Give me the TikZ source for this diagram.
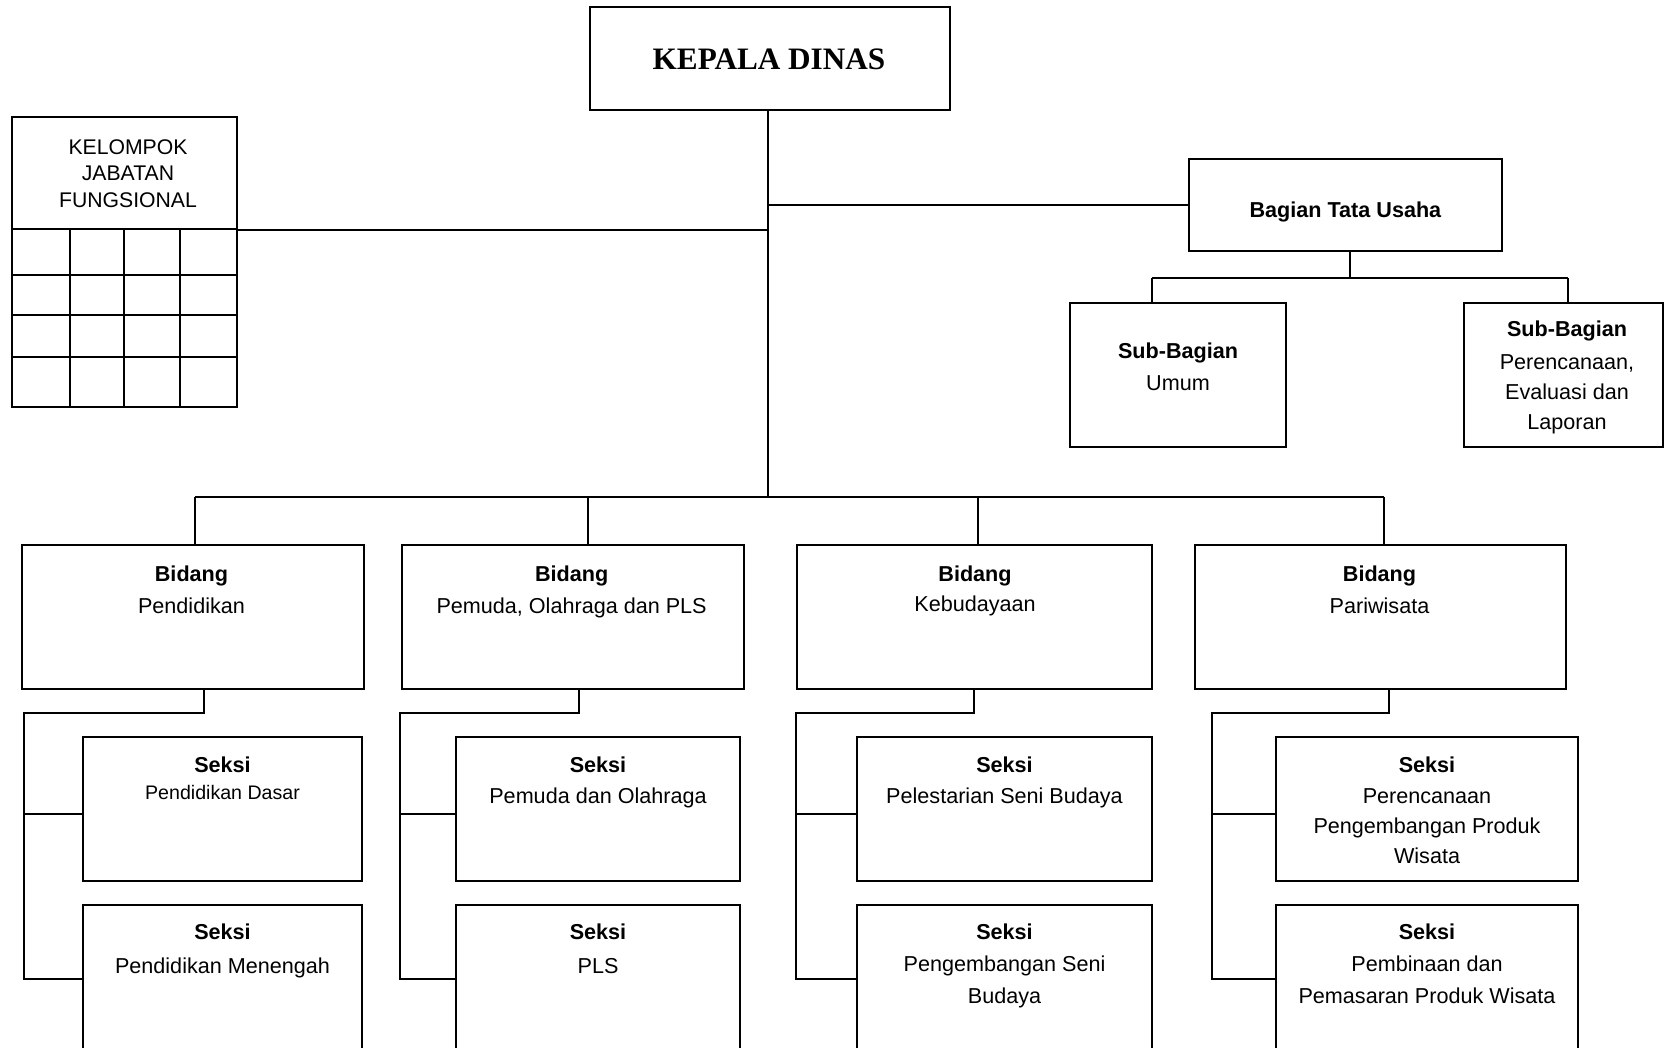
\documentclass[tikz,border=0pt]{standalone}
\usepackage{fontspec}
\setmainfont{Liberation Sans}
\newfontfamily\serifbold{Liberation Serif}
\usetikzlibrary{fit}
\newcommand\fsnorm{\fontsize{10.8}{15}\selectfont}
\begin{document}
\begin{tikzpicture}[x=0.5pt,y=-0.5pt,
  box/.style={draw, line width=1pt, inner sep=0pt},
  wire/.style={line width=0.85pt},
  lbl/.style={align=center, inner sep=0pt, anchor=base, font=\fsnorm},
]
\useasboundingbox (0,0) rectangle (1664,1048);
\clip (0,0) rectangle (1664,1048);

% ---- top
\node[box, fit={(590,7)(950,110)}] (kd) {};
\node[lbl, font=\serifbold\bfseries\fontsize{15.6}{18}\selectfont] (kdt) at (769,70) {KEPALA DINAS};

% ---- kelompok jabatan fungsional
\node[box, fit={(12,117)(237,229)}] (kjfh) {};
\node[box, fit={(12,229)(237,407)}] (kjfg) {};
\draw[line width=1pt] (70,229) -- (70,407) (124,229) -- (124,407) (180,229) -- (180,407)
  (12,275) -- (237,275) (12,315) -- (237,315) (12,357) -- (237,357);
\node[lbl, font=\fontsize{10.6}{13.25}\selectfont] (kjft) at (128,207.3) {KELOMPOK\\JABATAN\\FUNGSIONAL};

% ---- bagian tata usaha
\node[box, fit={(1189,159)(1502,251)}] (btu) {};
\node[lbl] (btut) at (1345.5,218) {\textbf{Bagian Tata Usaha}};
\node[box, fit={(1070,303)(1286,447)}] (sb1) {};
\node[lbl] (sb1t) at (1178,390.4) {\textbf{Sub-Bagian}\\[1.2pt]Umum};
\node[box, fit={(1464,303)(1662.5,447)}] (sb2) {};
\node[lbl] (sb2t) at (1567,429) {\textbf{Sub-Bagian}\\[1.5pt]Perencanaan,\\Evaluasi dan\\Laporan};

% ---- bidang
\node[box, fit={(22,545)(364,689)}] (bid1) {};
\node[lbl] (bid1t) at (191.5,613) {\textbf{Bidang}\\[1pt]Pendidikan};
\node[box, fit={(402,545)(744,689)}] (bid2) {};
\node[lbl] (bid2t) at (571.6,613) {\textbf{Bidang}\\[1pt]Pemuda, Olahraga dan PLS};
\node[box, fit={(797,545)(1152,689)}] (bid3) {};
\node[lbl] (bid3t) at (975,611) {\textbf{Bidang}\\[0pt]Kebudayaan};
\node[box, fit={(1195,545)(1566,689)}] (bid4) {};
\node[lbl] (bid4t) at (1379.5,613) {\textbf{Bidang}\\[1pt]Pariwisata};

% ---- seksi
\node[box, fit={(83,737)(362,881)}] (sk11) {};
\node[lbl] (sk11t) at (222.5,799) {\textbf{Seksi}\\[-1.5pt]{\fontsize{9.8}{14}\selectfont Pendidikan Dasar}};
\node[box, fit={(83,905)(362,1070)}] (sk12) {};
\node[lbl] (sk12t) at (222.5,973) {\textbf{Seksi}\\[2pt]Pendidikan Menengah};

\node[box, fit={(456,737)(740,881)}] (sk21) {};
\node[lbl] (sk21t) at (598,803) {\textbf{Seksi}\\[0.5pt]Pemuda dan Olahraga};
\node[box, fit={(456,905)(740,1070)}] (sk22) {};
\node[lbl] (sk22t) at (598,973) {\textbf{Seksi}\\[2pt]PLS};

\node[box, fit={(857,737)(1152,881)}] (sk31) {};
\node[lbl] (sk31t) at (1004.5,803) {\textbf{Seksi}\\[0.5pt]Pelestarian Seni Budaya};
\node[box, fit={(857,905)(1152,1070)}] (sk32) {};
\node[lbl] (sk32t) at (1004.5,1003) {\textbf{Seksi}\\[1pt]Pengembangan Seni\\[1pt]Budaya};

\node[box, fit={(1276,737)(1578,881)}] (sk41) {};
\node[lbl] (sk41t) at (1427,863) {\textbf{Seksi}\\[0.5pt]Perencanaan\\Pengembangan Produk\\Wisata};
\node[box, fit={(1276,905)(1578,1070)}] (sk42) {};
\node[lbl] (sk42t) at (1427,1003) {\textbf{Seksi}\\[1pt]Pembinaan dan\\[1pt]Pemasaran Produk Wisata};

% ---- connectors
\coordinate (tr) at (768,497);
\draw[wire] (kd.south -| tr) -- (tr);
\draw[wire] (kjfh.south east) -- (kjfh.south east -| tr);
\draw[wire] (btu.west -| tr) -- (btu.west);

\coordinate (btd) at (1350,278);
\coordinate (sbL) at (1152,278);
\coordinate (sbR) at (1568,278);
\draw[wire] (btd |- btu.south) -- (btd);
\draw[wire] (sbL) -- (sbR);
\draw[wire] (sbL) -- (sbL |- sb1.north);
\draw[wire] (sbR) -- (sbR |- sb2.north);

\coordinate (b1) at (195,497);
\coordinate (b2) at (588,497);
\coordinate (b3) at (978,497);
\coordinate (b4) at (1384,497);
\draw[wire] (b1) -- (b4);
\draw[wire] (b1) -- (b1 |- bid1.north);
\draw[wire] (b2) -- (b2 |- bid2.north);
\draw[wire] (b3) -- (b3 |- bid3.north);
\draw[wire] (b4) -- (b4 |- bid4.north);

% group 1
\coordinate (d1) at (204,713); \coordinate (l1) at (24,713);
\coordinate (m1) at (24,814); \coordinate (e1) at (24,979);
\draw[wire] (d1 |- bid1.south) -- (d1) -- (l1) -- (e1) -- (e1 -| sk12.west);
\draw[wire] (m1) -- (m1 -| sk11.west);
% group 2
\coordinate (d2) at (579,713); \coordinate (l2) at (400,713);
\coordinate (m2) at (400,814); \coordinate (e2) at (400,979);
\draw[wire] (d2 |- bid2.south) -- (d2) -- (l2) -- (e2) -- (e2 -| sk22.west);
\draw[wire] (m2) -- (m2 -| sk21.west);
% group 3
\coordinate (d3) at (974,713); \coordinate (l3) at (796,713);
\coordinate (m3) at (796,814); \coordinate (e3) at (796,979);
\draw[wire] (d3 |- bid3.south) -- (d3) -- (l3) -- (e3) -- (e3 -| sk32.west);
\draw[wire] (m3) -- (m3 -| sk31.west);
% group 4
\coordinate (d4) at (1389,713); \coordinate (l4) at (1212,713);
\coordinate (m4) at (1212,814); \coordinate (e4) at (1212,979);
\draw[wire] (d4 |- bid4.south) -- (d4) -- (l4) -- (e4) -- (e4 -| sk42.west);
\draw[wire] (m4) -- (m4 -| sk41.west);
\end{tikzpicture}
\end{document}
